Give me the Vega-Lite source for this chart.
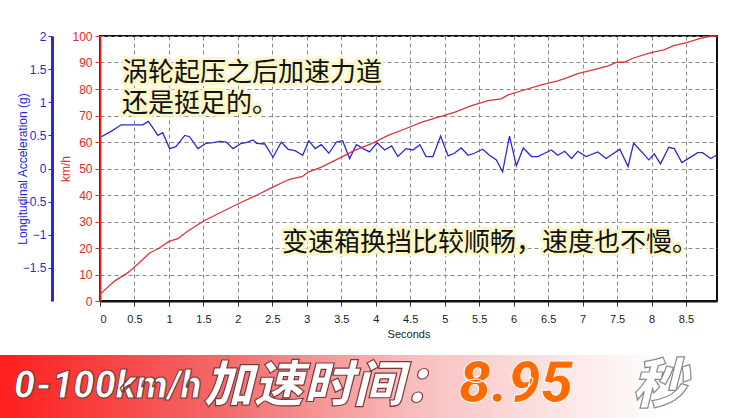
{
  "$schema": "https://vega.github.io/schema/vega-lite/v6.json",
  "width": 617,
  "height": 265,
  "autosize": {"type": "none"},
  "padding": {"left": 100, "top": 36, "right": 27, "bottom": 117},
  "background": "white",
  "config": {
    "view": {"stroke": "#111", "strokeWidth": 2},
    "font": "Liberation Sans",
    "axisX": {
      "format": "~g", "titleFontWeight": "normal", "titleFontSize": 11,
      "titleColor": "#222", "labelFontSize": 11, "labelColor": "#222", "domainColor": "#111",
      "domainWidth": 2, "tickColor": "#333", "tickSize": 5, "labelPadding": 7, "titlePadding": 4,
      "grid": true, "gridDash": [4, 3], "gridColor": "#8a8a8a", "gridWidth": 1, "labelOverlap": false
    }
  },
  "datasets": {
    "speed": [
      {"t": 0, "kmh": 2.5}, {"t": 0.21, "kmh": 7.5}, {"t": 0.4, "kmh": 10.6}, {"t": 0.55, "kmh": 14}, {"t": 0.72, "kmh": 18.1},
      {"t": 0.86, "kmh": 20}, {"t": 1.0, "kmh": 22.5}, {"t": 1.13, "kmh": 23.5}, {"t": 1.27, "kmh": 26.3}, {"t": 1.51, "kmh": 30.3},
      {"t": 1.75, "kmh": 33.4}, {"t": 2.02, "kmh": 36.9}, {"t": 2.28, "kmh": 40}, {"t": 2.47, "kmh": 42.5}, {"t": 2.67, "kmh": 45},
      {"t": 2.76, "kmh": 46}, {"t": 2.93, "kmh": 46.9}, {"t": 3.03, "kmh": 48.75}, {"t": 3.22, "kmh": 50.6}, {"t": 3.46, "kmh": 53.75},
      {"t": 3.7, "kmh": 56.9}, {"t": 3.94, "kmh": 59.4}, {"t": 4.18, "kmh": 62.5}, {"t": 4.43, "kmh": 65}, {"t": 4.67, "kmh": 67.5},
      {"t": 4.91, "kmh": 69.4}, {"t": 5.15, "kmh": 71.25}, {"t": 5.39, "kmh": 73.75}, {"t": 5.63, "kmh": 75.6}, {"t": 5.82, "kmh": 76.25},
      {"t": 5.92, "kmh": 77.75}, {"t": 6.2, "kmh": 80}, {"t": 6.4, "kmh": 81.6}, {"t": 6.64, "kmh": 83.1}, {"t": 6.78, "kmh": 84.3},
      {"t": 6.93, "kmh": 85.8}, {"t": 7.12, "kmh": 87}, {"t": 7.36, "kmh": 88.6}, {"t": 7.5, "kmh": 90.1}, {"t": 7.6, "kmh": 90.1},
      {"t": 7.74, "kmh": 91.7}, {"t": 7.98, "kmh": 93.6}, {"t": 8.18, "kmh": 94.8}, {"t": 8.32, "kmh": 96.4}, {"t": 8.51, "kmh": 97.5},
      {"t": 8.71, "kmh": 99.1}, {"t": 8.87, "kmh": 100}, {"t": 8.95, "kmh": 100}
    ],
    "accel": [
      {"t": 0.02, "g": 0.48}, {"t": 0.16, "g": 0.56}, {"t": 0.31, "g": 0.66}, {"t": 0.41, "g": 0.66}, {"t": 0.5, "g": 0.66},
      {"t": 0.62, "g": 0.66}, {"t": 0.7, "g": 0.71}, {"t": 0.77, "g": 0.61}, {"t": 0.84, "g": 0.5}, {"t": 0.91, "g": 0.54},
      {"t": 1.01, "g": 0.3}, {"t": 1.1, "g": 0.33}, {"t": 1.23, "g": 0.5}, {"t": 1.3, "g": 0.48}, {"t": 1.42, "g": 0.3},
      {"t": 1.54, "g": 0.38}, {"t": 1.64, "g": 0.39}, {"t": 1.74, "g": 0.41}, {"t": 1.83, "g": 0.4}, {"t": 1.93, "g": 0.3},
      {"t": 2.05, "g": 0.38}, {"t": 2.12, "g": 0.39}, {"t": 2.22, "g": 0.43}, {"t": 2.27, "g": 0.38}, {"t": 2.39, "g": 0.37},
      {"t": 2.51, "g": 0.17}, {"t": 2.63, "g": 0.4}, {"t": 2.73, "g": 0.29}, {"t": 2.83, "g": 0.27}, {"t": 2.94, "g": 0.2},
      {"t": 3.03, "g": 0.42}, {"t": 3.12, "g": 0.3}, {"t": 3.21, "g": 0.36}, {"t": 3.32, "g": 0.23}, {"t": 3.43, "g": 0.4},
      {"t": 3.52, "g": 0.42}, {"t": 3.62, "g": 0.15}, {"t": 3.72, "g": 0.36}, {"t": 3.82, "g": 0.3}, {"t": 3.91, "g": 0.25},
      {"t": 4.02, "g": 0.39}, {"t": 4.13, "g": 0.28}, {"t": 4.23, "g": 0.34}, {"t": 4.32, "g": 0.18}, {"t": 4.44, "g": 0.3},
      {"t": 4.54, "g": 0.28}, {"t": 4.64, "g": 0.36}, {"t": 4.73, "g": 0.18}, {"t": 4.83, "g": 0.18}, {"t": 4.94, "g": 0.49},
      {"t": 5.05, "g": 0.19}, {"t": 5.14, "g": 0.23}, {"t": 5.24, "g": 0.31}, {"t": 5.34, "g": 0.2}, {"t": 5.43, "g": 0.23},
      {"t": 5.55, "g": 0.29}, {"t": 5.65, "g": 0.2}, {"t": 5.75, "g": 0.13}, {"t": 5.84, "g": -0.05}, {"t": 5.94, "g": 0.49},
      {"t": 6.04, "g": 0.04}, {"t": 6.14, "g": 0.31}, {"t": 6.26, "g": 0.18}, {"t": 6.35, "g": 0.18}, {"t": 6.45, "g": 0.23},
      {"t": 6.55, "g": 0.28}, {"t": 6.64, "g": 0.2}, {"t": 6.74, "g": 0.26}, {"t": 6.84, "g": 0.15}, {"t": 6.93, "g": 0.26},
      {"t": 7.05, "g": 0.18}, {"t": 7.22, "g": 0.25}, {"t": 7.34, "g": 0.15}, {"t": 7.54, "g": 0.29}, {"t": 7.66, "g": 0.03},
      {"t": 7.74, "g": 0.38}, {"t": 7.86, "g": 0.25}, {"t": 7.96, "g": 0.13}, {"t": 8.04, "g": 0.22}, {"t": 8.13, "g": 0.07},
      {"t": 8.25, "g": 0.32}, {"t": 8.33, "g": 0.3}, {"t": 8.44, "g": 0.09}, {"t": 8.58, "g": 0.18}, {"t": 8.67, "g": 0.24},
      {"t": 8.74, "g": 0.24}, {"t": 8.86, "g": 0.15}, {"t": 8.94, "g": 0.2}
    ],
    "notes": [
      {"t": 0.32, "kmh": 86, "label": "涡轮起压之后加速力道"},
      {"t": 0.32, "kmh": 74.5, "label": "还是挺足的。"},
      {"t": 2.64, "kmh": 21.9, "label": "变速箱换挡比较顺畅，速度也不慢。"}
    ],
    "band": [{"t": -1.46, "t2": 9.35, "kmh": -20.4, "kmh2": -44.5}],
    "bannerLatin": [{"t": -1.25, "kmh": -32.3, "label": "0-100km/h"}],
    "bannerCJK": [{"t": 1.5, "kmh": -32.3, "label": "加速时间："}],
    "bannerSec": [{"t": 7.72, "kmh": -32.3, "label": "秒"}],
    "bannerOrange": [{"t": 5.2, "kmh": -31.8, "label": "8.95"}]
  },
  "layer": [
    {
      "data": {"name": "accel"},
      "mark": {"type": "line", "color": "#2a2ad0", "strokeWidth": 1.3},
      "encoding": {
        "x": {
          "field": "t", "type": "quantitative",
          "scale": {"domain": [0, 8.95], "nice": false, "zero": false},
          "axis": {"values": [0, 0.5, 1, 1.5, 2, 2.5, 3, 3.5, 4, 4.5, 5, 5.5, 6, 6.5, 7, 7.5, 8, 8.5], "title": "Seconds"}
        },
        "y": {
          "field": "g", "type": "quantitative",
          "scale": {"domain": [-2, 2], "nice": false, "zero": false},
          "axis": {
            "orient": "left", "offset": 48, "values": [-1.5, -1, -0.5, 0, 0.5, 1, 1.5, 2], "format": "~g",
            "title": "Longitudinal Acceleration (g)", "titleColor": "#2a2ad0", "labelColor": "#2a2ad0",
            "domainColor": "#2a2ad0", "domainWidth": 3, "tickColor": "#2a2ad0", "tickSize": 4, "labelPadding": 2,
            "grid": false, "labelFontSize": 12, "titleFontSize": 12, "titleFontWeight": "normal",
            "titleX": -30, "titleBaseline": "middle"
          }
        }
      }
    },
    {
      "layer": [
        {
          "data": {"name": "band"},
          "mark": {"type": "rect", "fill": {"gradient": "linear", "x1": 0, "x2": 1, "y1": 0, "y2": 0,
            "stops": [
              {"offset": 0, "color": "#ff1e1e"}, {"offset": 0.3, "color": "#f26a6a"},
              {"offset": 0.55, "color": "#f8bcbc"}, {"offset": 0.78, "color": "#fdeaea"}, {"offset": 0.9, "color": "#ffffff"},
              {"offset": 1, "color": "#ffffff"}]}},
          "encoding": {
            "x": {"field": "t", "type": "quantitative", "scale": {"domain": [0, 8.95], "nice": false, "zero": false},
              "axis": {"values": [0, 0.5, 1, 1.5, 2, 2.5, 3, 3.5, 4, 4.5, 5, 5.5, 6, 6.5, 7, 7.5, 8, 8.5], "title": "Seconds"}},
            "x2": {"field": "t2"},
            "y": {"field": "kmh", "type": "quantitative", "scale": {"domain": [0, 100], "nice": false},
              "axis": {"orient": "left", "offset": 0, "values": [0, 10, 20, 30, 40, 50, 60, 70, 80, 90, 100], "title": "km/h",
                "titleColor": "#e02828", "labelColor": "#e02828", "domainColor": "#e02828", "domainWidth": 2,
                "tickColor": "#e02828", "tickSize": 5, "labelFontSize": 12, "titleFontSize": 12,
                "titleFontWeight": "normal", "grid": true, "gridDash": [4, 3], "gridColor": "#8a8a8a",
                "titleX": -35, "titleBaseline": "middle", "labelPadding": 3}},
            "y2": {"field": "kmh2"}
          }
        },
        {
          "data": {"name": "speed"},
          "mark": {"type": "line", "color": "#e0303c", "strokeWidth": 1.3},
          "encoding": {
            "x": {"field": "t", "type": "quantitative", "scale": {"domain": [0, 8.95], "nice": false, "zero": false},
              "axis": {"values": [0, 0.5, 1, 1.5, 2, 2.5, 3, 3.5, 4, 4.5, 5, 5.5, 6, 6.5, 7, 7.5, 8, 8.5], "title": "Seconds"}},
            "y": {"field": "kmh", "type": "quantitative", "scale": {"domain": [0, 100], "nice": false},
              "axis": {"orient": "left", "offset": 0, "values": [0, 10, 20, 30, 40, 50, 60, 70, 80, 90, 100], "title": "km/h",
                "titleColor": "#e02828", "labelColor": "#e02828", "domainColor": "#e02828", "domainWidth": 2,
                "tickColor": "#e02828", "tickSize": 5, "labelFontSize": 12, "titleFontSize": 12,
                "titleFontWeight": "normal", "grid": true, "gridDash": [4, 3], "gridColor": "#8a8a8a",
                "titleX": -35, "titleBaseline": "middle", "labelPadding": 3}}
          }
        },
        {
          "data": {"name": "notes"},
          "mark": {"type": "text", "align": "left", "baseline": "middle", "font": "Noto Sans CJK SC",
            "fontSize": 26, "stroke": "#fbf6c6", "strokeWidth": 6, "strokeJoin": "round", "fill": "#fbf6c6"},
          "encoding": {
            "x": {"field": "t", "type": "quantitative", "scale": {"domain": [0, 8.95], "nice": false, "zero": false},
              "axis": {"values": [0, 0.5, 1, 1.5, 2, 2.5, 3, 3.5, 4, 4.5, 5, 5.5, 6, 6.5, 7, 7.5, 8, 8.5], "title": "Seconds"}},
            "y": {"field": "kmh", "type": "quantitative", "scale": {"domain": [0, 100], "nice": false},
              "axis": {"orient": "left", "offset": 0, "values": [0, 10, 20, 30, 40, 50, 60, 70, 80, 90, 100], "title": "km/h",
                "titleColor": "#e02828", "labelColor": "#e02828", "domainColor": "#e02828", "domainWidth": 2,
                "tickColor": "#e02828", "tickSize": 5, "labelFontSize": 12, "titleFontSize": 12,
                "titleFontWeight": "normal", "grid": true, "gridDash": [4, 3], "gridColor": "#8a8a8a",
                "titleX": -35, "titleBaseline": "middle", "labelPadding": 3}},
            "text": {"field": "label"}
          }
        },
        {
          "data": {"name": "notes"},
          "mark": {"type": "text", "align": "left", "baseline": "middle", "font": "Noto Sans CJK SC",
            "fontSize": 26, "fill": "#111"},
          "encoding": {
            "x": {"field": "t", "type": "quantitative", "scale": {"domain": [0, 8.95], "nice": false, "zero": false},
              "axis": {"values": [0, 0.5, 1, 1.5, 2, 2.5, 3, 3.5, 4, 4.5, 5, 5.5, 6, 6.5, 7, 7.5, 8, 8.5], "title": "Seconds"}},
            "y": {"field": "kmh", "type": "quantitative", "scale": {"domain": [0, 100], "nice": false},
              "axis": {"orient": "left", "offset": 0, "values": [0, 10, 20, 30, 40, 50, 60, 70, 80, 90, 100], "title": "km/h",
                "titleColor": "#e02828", "labelColor": "#e02828", "domainColor": "#e02828", "domainWidth": 2,
                "tickColor": "#e02828", "tickSize": 5, "labelFontSize": 12, "titleFontSize": 12,
                "titleFontWeight": "normal", "grid": true, "gridDash": [4, 3], "gridColor": "#8a8a8a",
                "titleX": -35, "titleBaseline": "middle", "labelPadding": 3}},
            "text": {"field": "label"}
          }
        },
        {
          "data": {"name": "bannerLatin"},
          "mark": {"type": "text", "align": "left", "baseline": "middle", "font": "Roboto",
            "fontSize": 38, "fontWeight": 900, "fontStyle": "italic", "fill": "#ffffff", "stroke": "#7a3a3a", "strokeWidth": 1.2},
          "encoding": {
            "x": {"field": "t", "type": "quantitative", "scale": {"domain": [0, 8.95], "nice": false, "zero": false},
              "axis": {"values": [0, 0.5, 1, 1.5, 2, 2.5, 3, 3.5, 4, 4.5, 5, 5.5, 6, 6.5, 7, 7.5, 8, 8.5], "title": "Seconds"}},
            "y": {"field": "kmh", "type": "quantitative", "scale": {"domain": [0, 100], "nice": false},
              "axis": {"orient": "left", "offset": 0, "values": [0, 10, 20, 30, 40, 50, 60, 70, 80, 90, 100], "title": "km/h",
                "titleColor": "#e02828", "labelColor": "#e02828", "domainColor": "#e02828", "domainWidth": 2,
                "tickColor": "#e02828", "tickSize": 5, "labelFontSize": 12, "titleFontSize": 12,
                "titleFontWeight": "normal", "grid": true, "gridDash": [4, 3], "gridColor": "#8a8a8a",
                "titleX": -35, "titleBaseline": "middle", "labelPadding": 3}},
            "text": {"field": "label"}
          }
        },
        {
          "data": {"name": "bannerCJK"},
          "mark": {"type": "text", "align": "left", "baseline": "middle", "font": "Noto Sans CJK SC",
            "fontSize": 50, "fontWeight": 900, "fontStyle": "italic", "fill": "#ffffff", "stroke": "#7a3a3a", "strokeWidth": 1.2},
          "encoding": {
            "x": {"field": "t", "type": "quantitative", "scale": {"domain": [0, 8.95], "nice": false, "zero": false},
              "axis": {"values": [0, 0.5, 1, 1.5, 2, 2.5, 3, 3.5, 4, 4.5, 5, 5.5, 6, 6.5, 7, 7.5, 8, 8.5], "title": "Seconds"}},
            "y": {"field": "kmh", "type": "quantitative", "scale": {"domain": [0, 100], "nice": false},
              "axis": {"orient": "left", "offset": 0, "values": [0, 10, 20, 30, 40, 50, 60, 70, 80, 90, 100], "title": "km/h",
                "titleColor": "#e02828", "labelColor": "#e02828", "domainColor": "#e02828", "domainWidth": 2,
                "tickColor": "#e02828", "tickSize": 5, "labelFontSize": 12, "titleFontSize": 12,
                "titleFontWeight": "normal", "grid": true, "gridDash": [4, 3], "gridColor": "#8a8a8a",
                "titleX": -35, "titleBaseline": "middle", "labelPadding": 3}},
            "text": {"field": "label"}
          }
        },
        {
          "data": {"name": "bannerSec"},
          "mark": {"type": "text", "align": "left", "baseline": "middle", "font": "Noto Sans CJK SC",
            "fontSize": 54, "fontWeight": 900, "fontStyle": "italic", "fill": "#ffffff", "stroke": "#8a8a8a", "strokeWidth": 1.2},
          "encoding": {
            "x": {"field": "t", "type": "quantitative", "scale": {"domain": [0, 8.95], "nice": false, "zero": false},
              "axis": {"values": [0, 0.5, 1, 1.5, 2, 2.5, 3, 3.5, 4, 4.5, 5, 5.5, 6, 6.5, 7, 7.5, 8, 8.5], "title": "Seconds"}},
            "y": {"field": "kmh", "type": "quantitative", "scale": {"domain": [0, 100], "nice": false},
              "axis": {"orient": "left", "offset": 0, "values": [0, 10, 20, 30, 40, 50, 60, 70, 80, 90, 100], "title": "km/h",
                "titleColor": "#e02828", "labelColor": "#e02828", "domainColor": "#e02828", "domainWidth": 2,
                "tickColor": "#e02828", "tickSize": 5, "labelFontSize": 12, "titleFontSize": 12,
                "titleFontWeight": "normal", "grid": true, "gridDash": [4, 3], "gridColor": "#8a8a8a",
                "titleX": -35, "titleBaseline": "middle", "labelPadding": 3}},
            "text": {"field": "label"}
          }
        },
        {
          "data": {"name": "bannerOrange"},
          "mark": {"type": "text", "align": "left", "baseline": "middle", "font": "Roboto",
            "fontSize": 58, "fontWeight": 900, "fontStyle": "italic", "fill": "#ff6a00", "stroke": "#ffffff", "strokeWidth": 1},
          "encoding": {
            "x": {"field": "t", "type": "quantitative", "scale": {"domain": [0, 8.95], "nice": false, "zero": false},
              "axis": {"values": [0, 0.5, 1, 1.5, 2, 2.5, 3, 3.5, 4, 4.5, 5, 5.5, 6, 6.5, 7, 7.5, 8, 8.5], "title": "Seconds"}},
            "y": {"field": "kmh", "type": "quantitative", "scale": {"domain": [0, 100], "nice": false},
              "axis": {"orient": "left", "offset": 0, "values": [0, 10, 20, 30, 40, 50, 60, 70, 80, 90, 100], "title": "km/h",
                "titleColor": "#e02828", "labelColor": "#e02828", "domainColor": "#e02828", "domainWidth": 2,
                "tickColor": "#e02828", "tickSize": 5, "labelFontSize": 12, "titleFontSize": 12,
                "titleFontWeight": "normal", "grid": true, "gridDash": [4, 3], "gridColor": "#8a8a8a",
                "titleX": -35, "titleBaseline": "middle", "labelPadding": 3}},
            "text": {"field": "label"}
          }
        }
      ]
    }
  ],
  "resolve": {"scale": {"y": "independent"}, "axis": {"y": "independent"}}
}
